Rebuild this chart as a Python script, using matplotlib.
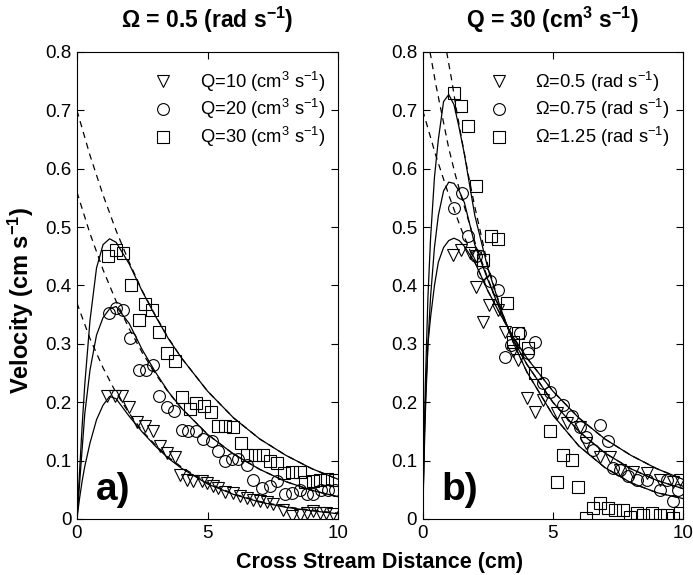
import numpy as np
import matplotlib
matplotlib.use('Agg')
import matplotlib.pyplot as plt

plt.rcParams['font.family'] = ['Liberation Sans', 'DejaVu Sans']
plt.rcParams['mathtext.default'] = 'regular'

# ---- panel a) : Omega = 0.5 rad/s, varying Q ----
a_q10_x = [1.17, 1.46, 1.72, 2.01, 2.29, 2.61, 2.90, 3.18, 3.44, 3.76, 3.95, 4.20, 4.46, 4.78, 4.97,
           5.22, 5.41, 5.67, 5.99, 6.24, 6.50, 6.75, 7.01, 7.26, 7.52, 7.90, 8.22, 8.54, 8.79, 9.04,
           9.30, 9.55, 9.81]
a_q10_y = [0.210, 0.210, 0.210, 0.191, 0.167, 0.159, 0.150, 0.125, 0.113, 0.107, 0.076, 0.067, 0.065,
           0.065, 0.062, 0.057, 0.053, 0.047, 0.045, 0.039, 0.036, 0.033, 0.030, 0.029, 0.026, 0.016,
           0.005, 0.007, 0.010, 0.013, 0.010, 0.010, 0.009]
a_q20_x = [1.21, 1.50, 1.76, 2.04, 2.36, 2.65, 2.90, 3.16, 3.44, 3.72, 4.01, 4.27, 4.56, 4.84, 5.16,
           5.41, 5.67, 5.92, 6.18, 6.50, 6.75, 7.07, 7.39, 7.64, 7.96, 8.22, 8.54, 8.79, 9.04, 9.36,
           9.62, 9.87]
a_q20_y = [0.353, 0.362, 0.358, 0.310, 0.256, 0.256, 0.263, 0.211, 0.192, 0.185, 0.153, 0.150, 0.150,
           0.137, 0.133, 0.116, 0.099, 0.102, 0.102, 0.093, 0.067, 0.053, 0.057, 0.065, 0.042, 0.045,
           0.050, 0.042, 0.042, 0.050, 0.049, 0.050]
a_q30_x = [1.20, 1.49, 1.75, 2.06, 2.36, 2.61, 2.87, 3.16, 3.44, 3.76, 4.01, 4.31, 4.56, 4.87, 5.12,
           5.41, 5.67, 5.99, 6.27, 6.52, 6.82, 7.11, 7.39, 7.67, 7.92, 8.22, 8.54, 8.73, 9.04, 9.32,
           9.58, 9.87]
a_q30_y = [0.450, 0.461, 0.455, 0.400, 0.341, 0.369, 0.358, 0.320, 0.285, 0.270, 0.209, 0.189, 0.198,
           0.193, 0.183, 0.159, 0.159, 0.158, 0.131, 0.110, 0.110, 0.110, 0.099, 0.096, 0.079, 0.080,
           0.080, 0.063, 0.065, 0.066, 0.069, 0.067]

# model curves read off panel a)
a_fit_x = [0, 0.1, 0.2, 0.3, 0.5, 0.75, 1.0, 1.25, 1.5, 2.0, 2.5, 3.0, 3.5, 4.0, 5, 6, 7, 8, 9, 10]
a_fit_q10 = [0, 0.035, 0.065, 0.09, 0.13, 0.170, 0.195, 0.210, 0.206, 0.176, 0.149, 0.125, 0.104,
             0.087, 0.060, 0.042, 0.029, 0.020, 0.014, 0.009]
a_fit_q20 = [0, 0.06, 0.12, 0.18, 0.255, 0.315, 0.345, 0.360, 0.364, 0.335, 0.29, 0.252, 0.218,
             0.19, 0.145, 0.111, 0.085, 0.064, 0.049, 0.038]
a_fit_q30 = [0, 0.08, 0.16, 0.23, 0.34, 0.43, 0.47, 0.48, 0.474, 0.437, 0.390, 0.348, 0.309, 0.276,
             0.219, 0.173, 0.137, 0.109, 0.086, 0.068]
dash_x = [0, 0.5, 1, 1.5, 2, 2.5, 3, 3.5, 4, 5, 6, 7, 8, 9, 10]
a_dash_q10 = [0.370, 0.309, 0.259, 0.216, 0.181, 0.151, 0.127, 0.106, 0.089, 0.062, 0.043, 0.030,
              0.021, 0.015, 0.010]
a_dash_q20 = [0.560, 0.489, 0.427, 0.373, 0.326, 0.285, 0.249, 0.217, 0.190, 0.145, 0.111, 0.085,
              0.064, 0.049, 0.038]
a_dash_q30 = [0.700, 0.623, 0.555, 0.494, 0.440, 0.391, 0.349, 0.310, 0.276, 0.219, 0.173, 0.137,
              0.109, 0.086, 0.068]

# ---- panel b) : Q = 30 cm3/s, varying Omega ----
b_w05_x = [1.15, 1.47, 1.80, 2.05, 2.06, 2.32, 2.56, 2.88, 3.15, 3.47, 3.67, 3.99, 4.31, 4.63, 5.14,
           5.53, 6.04, 6.29, 6.81, 7.19, 7.58, 8.09, 8.60, 9.12, 9.63, 9.90]
b_w05_y = [0.453, 0.461, 0.456, 0.398, 0.450, 0.338, 0.367, 0.358, 0.321, 0.287, 0.273, 0.207, 0.184,
           0.204, 0.181, 0.164, 0.158, 0.130, 0.107, 0.107, 0.084, 0.081, 0.078, 0.067, 0.064, 0.067]
b_w075_x = [1.19, 1.49, 1.74, 2.06, 2.32, 2.58, 2.90, 3.15, 3.41, 3.73, 4.05, 4.31, 4.63, 4.88, 5.40,
            5.72, 6.04, 6.29, 6.55, 6.81, 7.13, 7.32, 7.58, 7.90, 8.22, 8.60, 9.12, 9.37, 9.63, 9.82]
b_w075_y = [0.533, 0.559, 0.484, 0.450, 0.421, 0.407, 0.393, 0.278, 0.298, 0.318, 0.284, 0.304, 0.233,
            0.218, 0.196, 0.176, 0.158, 0.141, 0.118, 0.161, 0.133, 0.087, 0.084, 0.073, 0.067, 0.067,
            0.050, 0.067, 0.030, 0.050]
b_w125_x = [1.19, 1.46, 1.74, 2.06, 2.31, 2.62, 2.90, 3.22, 3.47, 3.67, 4.05, 4.31, 4.88, 5.14, 5.40,
            5.72, 5.97, 6.29, 6.55, 6.81, 7.13, 7.38, 7.71, 7.96, 8.22, 8.47, 8.79, 9.12, 9.37, 9.63,
            9.90]
b_w125_y = [0.730, 0.707, 0.674, 0.570, 0.444, 0.484, 0.479, 0.370, 0.304, 0.318, 0.293, 0.250, 0.150,
            0.064, 0.110, 0.101, 0.055, 0.001, 0.018, 0.028, 0.018, 0.015, 0.015, 0.004, 0.011, 0.007,
            0.011, 0.007, 0.007, 0.001, 0.010]

b_fit_x = [0, 0.05, 0.1, 0.2, 0.3, 0.45, 0.6, 0.8, 1.0, 1.2, 1.4, 1.6, 2.0, 2.5, 3.0, 3.5, 4.0,
           5, 6, 7, 8, 9, 10]
b_fit_w05 = [0, 0.12, 0.20, 0.30, 0.345, 0.40, 0.44, 0.465, 0.477, 0.481, 0.477, 0.467, 0.44, 0.391,
             0.349, 0.310, 0.276, 0.219, 0.173, 0.137, 0.109, 0.086, 0.068]
b_fit_w075 = [0, 0.10, 0.18, 0.30, 0.38, 0.465, 0.52, 0.562, 0.577, 0.575, 0.562, 0.542, 0.47, 0.41,
              0.355, 0.305, 0.265, 0.200, 0.150, 0.113, 0.086, 0.066, 0.052]
b_fit_w125 = [0, 0.12, 0.23, 0.38, 0.48, 0.585, 0.65, 0.715, 0.727, 0.71, 0.67, 0.625, 0.52, 0.43,
              0.36, 0.30, 0.252, 0.178, 0.125, 0.088, 0.062, 0.045, 0.035]
b_dash_w075_x = [0.28, 0.5, 0.75, 1.0, 1.25, 1.5, 2.0, 2.5, 3, 3.5, 4, 5, 6, 7, 8, 9, 10]
b_dash_w075 = [0.80, 0.745, 0.69, 0.635, 0.59, 0.55, 0.475, 0.412, 0.356, 0.305, 0.265, 0.200, 0.150,
               0.113, 0.086, 0.066, 0.052]
b_dash_w125_x = [0.92, 1.1, 1.3, 1.5, 1.75, 2.0, 2.5, 3, 3.5, 4, 5, 6, 7, 8, 9, 10]
b_dash_w125 = [0.80, 0.755, 0.70, 0.65, 0.59, 0.535, 0.435, 0.36, 0.30, 0.252, 0.178, 0.125, 0.088,
               0.062, 0.045, 0.035]

fig = plt.figure(figsize=(6.93, 5.75), dpi=100)
ax1 = fig.add_axes([0.111, 0.0974, 0.377, 0.8122])
ax2 = fig.add_axes([0.610, 0.0974, 0.3756, 0.8122])

mk = dict(ls='none', mfc='none', mec='k', ms=8.5, mew=0.8)
dsh = dict(color='k', lw=0.9, dashes=(5, 4))

# panel a
ax1.plot(a_fit_x, a_fit_q10, 'k-', lw=0.9)
ax1.plot(a_fit_x, a_fit_q20, 'k-', lw=0.9)
ax1.plot(a_fit_x, a_fit_q30, 'k-', lw=0.9)
ax1.plot(dash_x, a_dash_q10, **dsh)
ax1.plot(dash_x, a_dash_q20, **dsh)
ax1.plot(dash_x, a_dash_q30, **dsh)
ax1.plot(a_q10_x, a_q10_y, marker='v', label='Q=10 (cm$^3$ s$^{-1}$)', **mk)
ax1.plot(a_q20_x, a_q20_y, marker='o', label='Q=20 (cm$^3$ s$^{-1}$)', **mk)
ax1.plot(a_q30_x, a_q30_y, marker='s', label='Q=30 (cm$^3$ s$^{-1}$)', **mk)

# panel b
ax2.plot(b_fit_x, b_fit_w05, 'k-', lw=0.9)
ax2.plot(b_fit_x, b_fit_w075, 'k-', lw=0.9)
ax2.plot(b_fit_x, b_fit_w125, 'k-', lw=0.9)
ax2.plot(dash_x, a_dash_q30, **dsh)
ax2.plot(b_dash_w075_x, b_dash_w075, **dsh)
ax2.plot(b_dash_w125_x, b_dash_w125, **dsh)
ax2.plot(b_w05_x, b_w05_y, marker='v', label='Ω=0.5 (rad s$^{-1}$)', **mk)
ax2.plot(b_w075_x, b_w075_y, marker='o', label='Ω=0.75 (rad s$^{-1}$)', **mk)
ax2.plot(b_w125_x, b_w125_y, marker='s', label='Ω=1.25 (rad s$^{-1}$)', **mk)

for ax, tag, ttl in [(ax1, 'a)', 'Ω = 0.5 (rad s$^{-1}$)'), (ax2, 'b)', 'Q = 30 (cm$^3$ s$^{-1}$)')]:
    ax.set_xlim(0, 10)
    ax.set_ylim(0, 0.8)
    ax.set_xticks([0, 5, 10])
    ax.set_xticklabels(['0', '5', '10'])
    ax.set_yticks(np.arange(0, 0.81, 0.1))
    ax.set_yticklabels(['0', '0.1', '0.2', '0.3', '0.4', '0.5', '0.6', '0.7', '0.8'])
    ax.tick_params(direction='in', top=True, right=True, length=5, width=0.8, labelsize=13.5, pad=4)
    for s in ax.spines.values():
        s.set_linewidth(0.8)
    ax.text(0.072, 0.062, tag, transform=ax.transAxes, fontsize=28, fontweight='bold',
            ha='left', va='center')
    ax.set_title(ttl, fontsize=16.5, fontweight='bold', pad=17)
    ax.legend(loc='upper right', frameon=False, fontsize=13.2, handletextpad=1.0,
              bbox_to_anchor=(1.0, 0.99), borderaxespad=0.3, labelspacing=0.2)

fig.text(0.03, 0.478, 'Velocity (cm s$^{-1}$)', rotation=90, ha='center', va='center',
         fontsize=17, fontweight='bold')
fig.text(0.548, 0.022, 'Cross Stream Distance (cm)', ha='center', va='center',
         fontsize=15.5, fontweight='bold')

fig.savefig('out.png', dpi=100)
